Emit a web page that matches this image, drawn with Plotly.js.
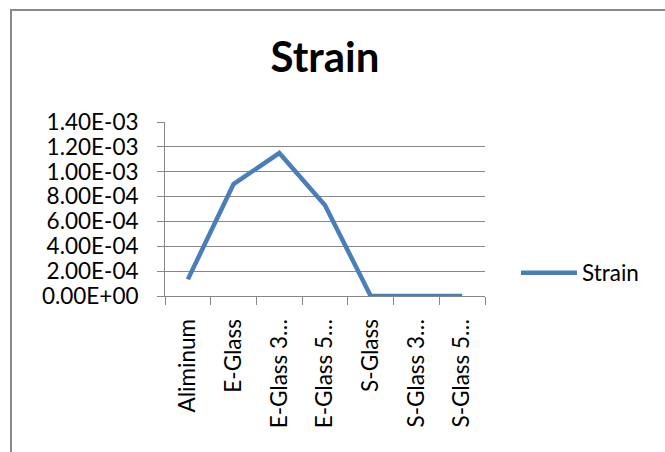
<!DOCTYPE html>
<html>
<head>
<meta charset="utf-8">
<script src="https://cdn.plot.ly/plotly-3.0.1.min.js"></script>
<style>html,body{margin:0;padding:0;background:#fff;}#chart{width:665px;height:452px;}</style>
</head>
<body>
<div id="chart"></div>
<script>
const categories = ["Aliminum", "E-Glass", "E-Glass 3\u2026", "E-Glass 5\u2026", "S-Glass", "S-Glass 3\u2026", "S-Glass 5\u2026"];
const strain = [0.000134, 0.000900, 0.001150, 0.000730, 0, 0, 0];
const yTickVals = [0, 0.0002, 0.0004, 0.0006, 0.0008, 0.0010, 0.0012, 0.0014];
const yTickText = ["0.00E+00", "2.00E-04", "4.00E-04", "6.00E-04", "8.00E-04", "1.00E-03", "1.20E-03", "1.40E-03"];
const seriesName = "Strain";
const chartTitle = "Strain";

const FONT = "Lato, 'Open Sans', sans-serif";
const GRID = "#878787";
const TICKSIZE = 22.5;

const data = [{
  type: "scatter",
  mode: "lines",
  x: categories,
  y: strain,
  name: seriesName,
  line: {color: "#4A7EBB", width: 4.5},
  showlegend: true
}];

const layout = {
  width: 665,
  height: 452,
  margin: {l: 165, r: 180, t: 122, b: 156, pad: 0},
  paper_bgcolor: "#fff",
  plot_bgcolor: "#fff",
  font: {family: FONT, size: TICKSIZE, color: "#000"},
  title: {
    text: "<b>" + chartTitle + "</b>",
    font: {family: FONT, size: 42, color: "#000"},
    x: 0.5, xref: "paper", xanchor: "center",
    y: 1 - 57 / 452, yref: "container", yanchor: "middle"
  },
  xaxis: {
    type: "category",
    range: [-0.5, 6.5],
    tickson: "boundaries",
    ticks: "outside",
    ticklen: 8,
    tickcolor: GRID,
    tickwidth: 1,
    tickangle: -90,
    ticklabelstandoff: 13,
    showline: true,
    linecolor: GRID,
    linewidth: 1,
    showgrid: false,
    zeroline: false,
    tickfont: {family: FONT, size: TICKSIZE, color: "#000"},
    fixedrange: true
  },
  yaxis: {
    range: [0, 0.0014],
    tickvals: yTickVals,
    ticktext: yTickText,
    ticks: "outside",
    ticklen: 7,
    tickcolor: GRID,
    tickwidth: 1,
    ticklabelstandoff: 14,
    showline: true,
    linecolor: GRID,
    linewidth: 1,
    showgrid: true,
    gridcolor: GRID,
    gridwidth: 1,
    zeroline: false,
    tickfont: {family: FONT, size: TICKSIZE, color: "#000"},
    fixedrange: true
  },
  showlegend: true,
  legend: {
    x: (516 - 165) / 320,
    xanchor: "left",
    y: (296 - 273) / 174,
    yanchor: "middle",
    font: {family: FONT, size: TICKSIZE, color: "#000"},
    bgcolor: "rgba(0,0,0,0)",
    itemwidth: 56
  },
  shapes: [{
    type: "rect",
    xref: "paper", yref: "paper",
    x0: (11 - 165) / 320, x1: (700 - 165) / 320,
    y0: (296 - 480) / 174, y1: (296 - 10) / 174,
    line: {color: "#898989", width: 2},
    fillcolor: "rgba(0,0,0,0)",
    layer: "below"
  }]
};

Plotly.newPlot("chart", data, layout, {displayModeBar: false, staticPlot: true});
</script>
</body>
</html>
